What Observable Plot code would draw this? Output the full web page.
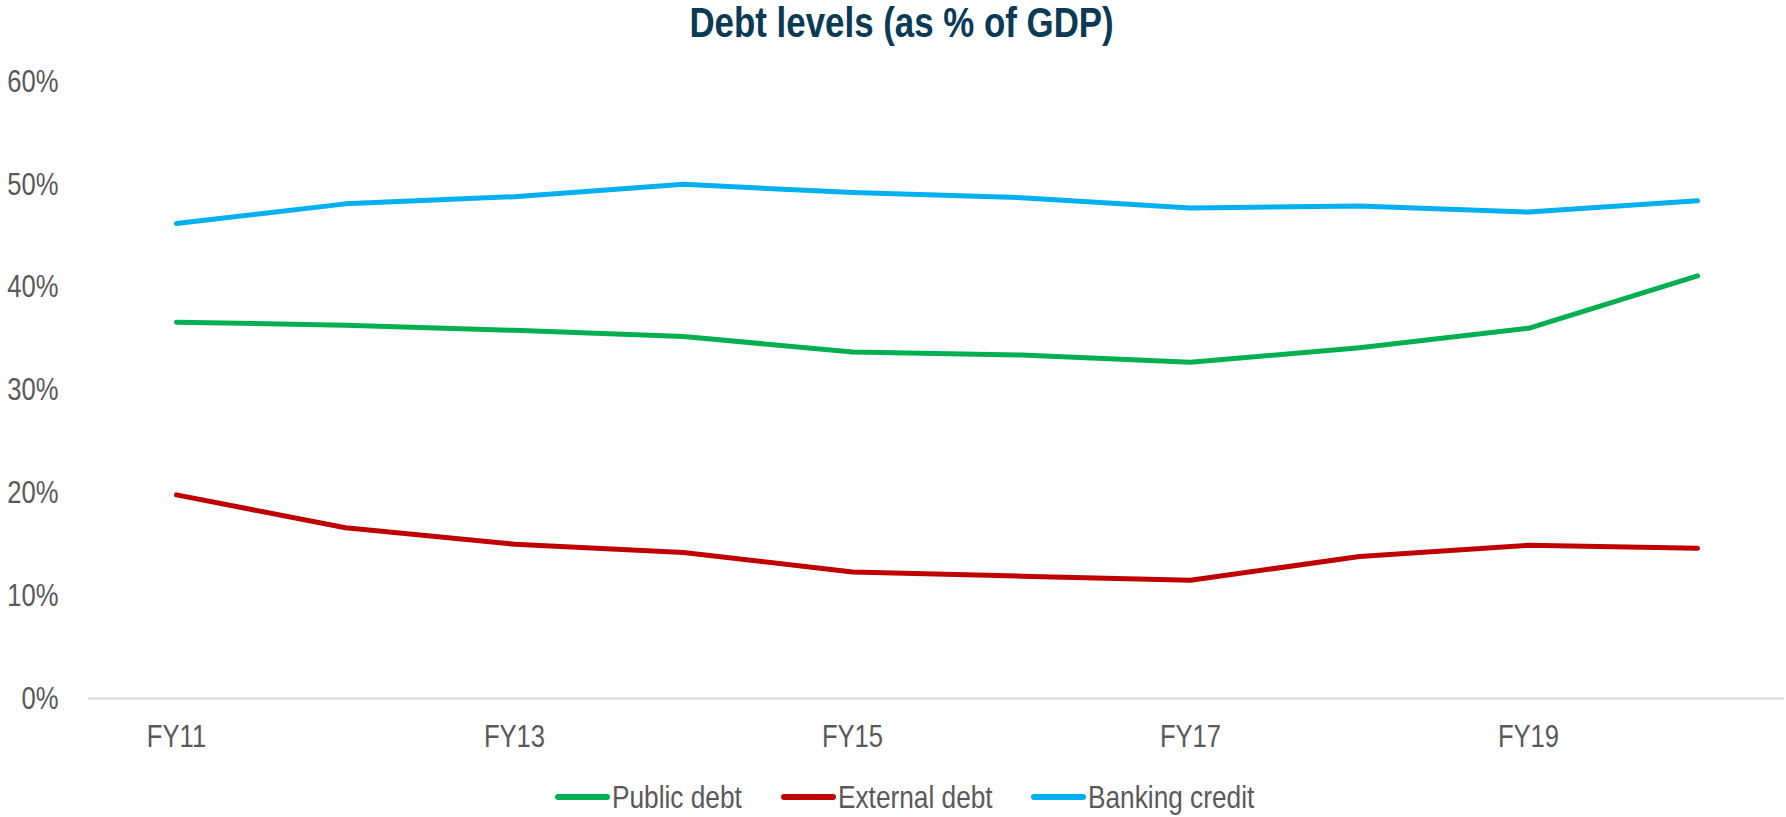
<!DOCTYPE html>
<html>
<head>
<meta charset="utf-8">
<script src="https://cdn.jsdelivr.net/npm/d3@7"></script>
<script src="https://cdn.jsdelivr.net/npm/@observablehq/plot@0.6"></script>
<style>
  html, body { margin: 0; padding: 0; background: #fff; overflow: hidden; }
  body { width: 1786px; height: 817px; font-family: "Liberation Sans", Arial, sans-serif; }
  #title { height: 55px; line-height: 46px; text-align: center; font-weight: bold; font-size: 42px; color: #0a3a55; padding-left: 18px; box-sizing: border-box; white-space: nowrap; }
  #title span { display: inline-block; transform: scaleX(0.83); transform-origin: center; }
  #chart svg { display: block; }
  #legend { display: flex; justify-content: center; align-items: center; gap: 39px; font-size: 32px; color: #595959; height: 58px; padding-top: 6px; padding-left: 23px; box-sizing: border-box; white-space: nowrap; }
  .item { display: flex; align-items: center; gap: 2px; }
  .sw { width: 55px; height: 6px; border-radius: 3px; }
  .lab { display: inline-block; transform: scaleX(0.82); transform-origin: left center; }
</style>
</head>
<body>
<div id="title"><span>Debt levels (as % of GDP)</span></div>
<div id="chart"></div>
<div id="legend"></div>
<script>
const years = ["FY11","FY12","FY13","FY14","FY15","FY16","FY17","FY18","FY19","FY20"];
const tickYears = ["FY11","FY13","FY15","FY17","FY19"];
const publicDebt   = [36.6, 36.3, 35.8, 35.2, 33.7, 33.4, 32.7, 34.1, 36.0, 41.1];
const externalDebt = [19.8, 16.6, 15.0, 14.2, 12.3, 11.9, 11.5, 13.8, 14.9, 14.6];
const bankingCredit= [46.2, 48.1, 48.8, 50.0, 49.2, 48.7, 47.7, 47.9, 47.3, 48.4];
const seriesNames = ["Public debt", "External debt", "Banking credit"];
const seriesColors = ["#00b050", "#c00000", "#00b0f0"];
const yTicks = [0, 10, 20, 30, 40, 50, 60];

const seriesValues = [publicDebt, externalDebt, bankingCredit];
const data = seriesNames.flatMap((name, i) =>
  years.map((yr, j) => ({series: name, year: yr, value: seriesValues[i][j]}))
);

const chart = Plot.plot({
  width: 1786,
  height: 710,
  marginLeft: 88,
  marginRight: 2,
  marginTop: 26,
  marginBottom: 67,
  style: {fontFamily: '"Liberation Sans", Arial, sans-serif', fontSize: "32px", color: "#595959", background: "#fff"},
  x: {type: "point", domain: years, padding: 0.5, label: null},
  y: {domain: [0, 60], label: null},
  color: {domain: seriesNames, range: seriesColors},
  marks: [
    Plot.ruleY([0], {stroke: "#d9d9d9", strokeWidth: 2}),
    Plot.line(data, {x: "year", y: "value", z: "series", stroke: "series", strokeWidth: 5, strokeLinecap: "round", strokeLinejoin: "round"}),
    Plot.axisX({ticks: tickYears, tickSize: 0, tickPadding: 26, fill: "#595959", fontSize: 32, label: null}),
    Plot.axisY({ticks: yTicks, tickSize: 0, tickPadding: 30, tickFormat: d => d + "%", fill: "#595959", fontSize: 32, label: null})
  ]
});
document.getElementById("chart").appendChild(chart);

// condense axis labels to mimic a narrow typeface (glyph compression, positions untouched)
chart.querySelectorAll("text").forEach(t => {
  const L = t.getComputedTextLength();
  if (L > 0) {
    t.setAttribute("textLength", (L * 0.8).toFixed(2));
    t.setAttribute("lengthAdjust", "spacingAndGlyphs");
  }
});

const legend = document.getElementById("legend");
seriesNames.forEach((name, i) => {
  const item = document.createElement("div");
  item.className = "item";
  const sw = document.createElement("div");
  sw.className = "sw";
  sw.style.background = seriesColors[i];
  const lab = document.createElement("span");
  lab.className = "lab";
  lab.textContent = name;
  item.appendChild(sw);
  item.appendChild(lab);
  legend.appendChild(item);
  lab.style.marginRight = (-lab.offsetWidth * 0.18) + "px";
});
</script>
</body>
</html>
